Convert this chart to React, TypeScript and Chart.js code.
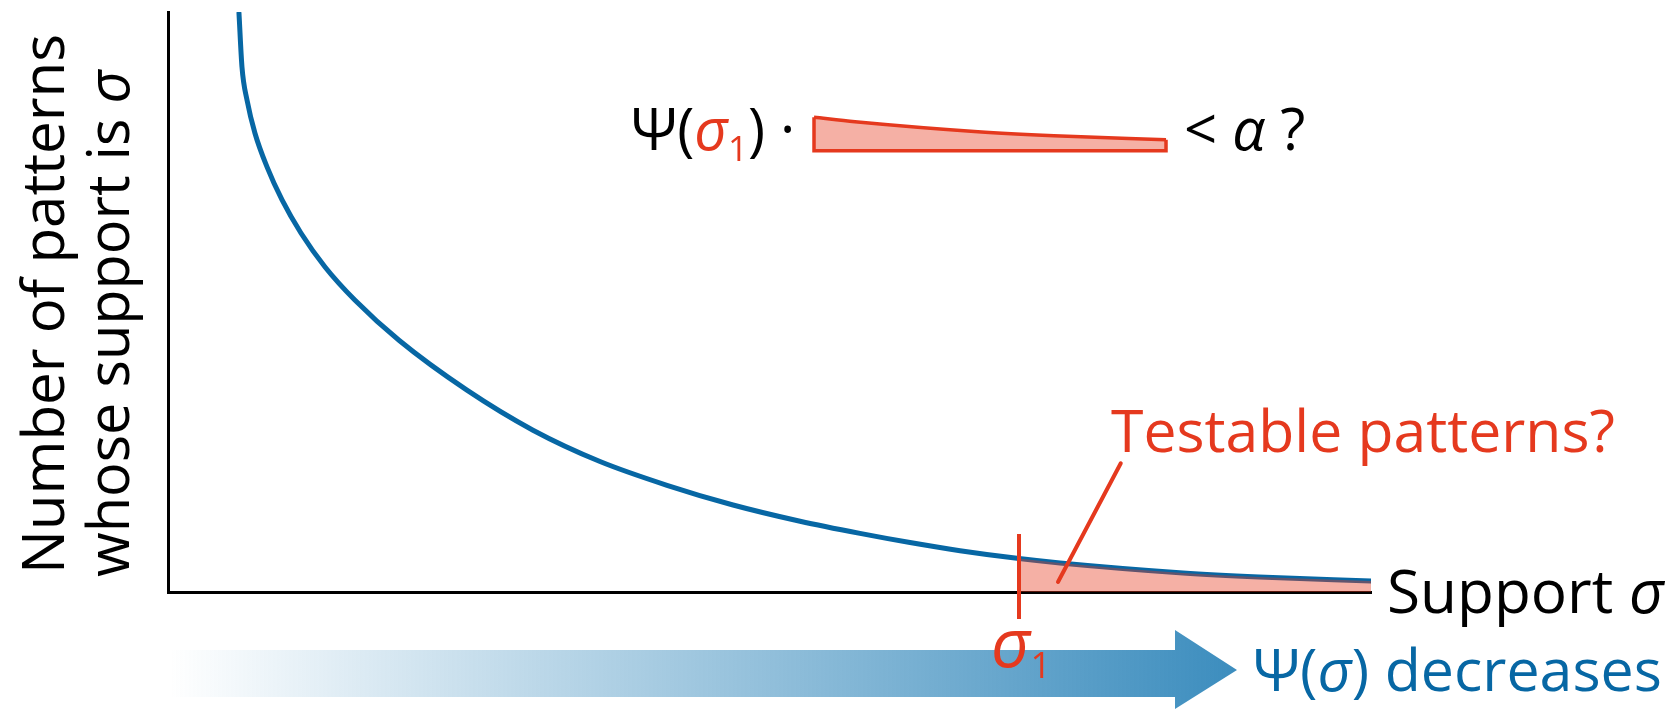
import { useEffect, useRef } from "react";
import { Chart, registerables } from "chart.js";

Chart.register(...registerables);

// ---- data ----
const supportValues = [5.9, 6.15, 6.57, 7.23, 8.23, 9.48, 11.05, 13.07, 15.55, 19.2, 24.85, 30.34, 35.91, 41.48, 46.97, 52.54, 57.52, 61.68, 65.84, 70.74, 74.15, 84.37, 90.69, 100];
const patternCounts = [99.8, 90.5, 84.8, 79.1, 73.3, 67.6, 61.9, 56.0, 50.3, 43.4, 34.8, 27.9, 22.5, 18.4, 15.0, 12.2, 10.1, 8.52, 7.12, 5.76, 5.0, 3.28, 2.59, 1.9];
const sigma1 = 70.74;
const sigma1TickY = [9.98, -4.65];
const leaderX = [79.2, 73.98];
const leaderY = [22.2, 1.72];
// the small copy of the tail area, shifted in data units
const insetShiftX = -17.04;
const insetShiftY = 76.08;

const RED = "#e5391e";
const FILL = "rgba(230,57,30,0.4)";
const BLUE = "#0767a4";
const FONT = '"Open Sans"';

type Run = { t: string; color?: string; italic?: boolean; sub?: boolean; size?: number; dy?: number };

function fontFor(r: Run, size: number) {
  const s = r.size ? r.size : r.sub ? size * 0.6 : size;
  return `${r.italic ? "italic " : ""}${s}px ${FONT}`;
}
function runsWidth(ctx: CanvasRenderingContext2D, runs: Run[], size: number) {
  let w = 0;
  for (const r of runs) {
    ctx.font = fontFor(r, size);
    w += ctx.measureText(r.t).width;
  }
  return w;
}
function fitSize(ctx: CanvasRenderingContext2D, runs: Run[], target: number) {
  return (100 * target) / runsWidth(ctx, runs, 100);
}
function drawRuns(ctx: CanvasRenderingContext2D, runs: Run[], x: number, y: number, size: number, color: string) {
  let cx = x;
  ctx.textAlign = "left";
  ctx.textBaseline = "alphabetic";
  for (const r of runs) {
    ctx.font = fontFor(r, size);
    ctx.fillStyle = r.color || color;
    const dy = r.dy !== undefined ? r.dy : r.sub ? size * 0.19 : 0;
    ctx.fillText(r.t, cx, y + dy);
    cx += ctx.measureText(r.t).width;
  }
}

const annotations = {
  id: "annotations",
  afterDraw(chart: any) {
    const ctx: CanvasRenderingContext2D = chart.ctx;
    ctx.save();
    // gradient arrow
    const g = ctx.createLinearGradient(170, 0, 1237, 0);
    g.addColorStop(0, "rgba(60,141,190,0)");
    g.addColorStop(1, "rgba(60,141,190,1)");
    ctx.fillStyle = g;
    ctx.beginPath();
    ctx.moveTo(170, 650);
    ctx.lineTo(1175, 650);
    ctx.lineTo(1175, 630);
    ctx.lineTo(1237, 670);
    ctx.lineTo(1175, 709);
    ctx.lineTo(1175, 697);
    ctx.lineTo(170, 697);
    ctx.closePath();
    ctx.fill();

    // y axis title (two lines, rotated)
    const y1: Run[] = [{ t: "Number of patterns" }];
    const y2: Run[] = [{ t: "whose support is " }, { t: "σ", italic: true }];
    ctx.save();
    ctx.translate(64, 574);
    ctx.rotate(-Math.PI / 2);
    drawRuns(ctx, y1, 0, 0, fitSize(ctx, y1, 540), "#000");
    ctx.restore();
    ctx.save();
    ctx.translate(129, 577);
    ctx.rotate(-Math.PI / 2);
    drawRuns(ctx, y2, 0, 0, fitSize(ctx, y2, 507), "#000");
    ctx.restore();

    // x axis title
    const sx: Run[] = [{ t: "Support " }, { t: "σ", italic: true }];
    drawRuns(ctx, sx, 1387, 613, fitSize(ctx, sx, 277), "#000");

    // testable patterns
    const tp: Run[] = [{ t: "Testable patterns?" }];
    drawRuns(ctx, tp, 1111, 452, fitSize(ctx, tp, 504), RED);

    // psi decreases
    const pd: Run[] = [{ t: "Ψ(" }, { t: "σ", italic: true }, { t: ") decreases" }];
    drawRuns(ctx, pd, 1253, 691, fitSize(ctx, pd, 409), BLUE);

    // sigma1 label
    drawRuns(ctx, [{ t: "σ", italic: true, size: 68 }, { t: "1", size: 36, dy: 11 }], 991, 667, 68, RED);

    // Psi(sigma1) · ... < alpha ?
    drawRuns(
      ctx,
      [{ t: "Ψ(" }, { t: "σ", italic: true, color: RED }, { t: "1", sub: true, color: RED }, { t: ") ·" }],
      631, 150, 58, "#000"
    );
    drawRuns(ctx, [{ t: "< " }, { t: "α", italic: true }, { t: " ?" }], 1184, 150, 58, "#000");
    ctx.restore();
  },
};

export default function App() {
  const ref = useRef<HTMLCanvasElement | null>(null);
  useEffect(() => {
    document.body.style.margin = "0";
    const canvas = ref.current!;
    const curve = supportValues.map((x, i) => ({ x, y: patternCounts[i] }));
    const tail = curve.filter((p) => p.x >= sigma1);
    const insetTop = tail.map((p) => ({ x: p.x + insetShiftX, y: p.y + insetShiftY }));
    const first = insetTop[0];
    const last = insetTop[insetTop.length - 1];
    const insetOutline = [first, { x: first.x, y: insetShiftY }, { x: last.x, y: insetShiftY }, last];
    const chart = new Chart(canvas, {
      type: "line",
      data: {
        datasets: [
          {
            data: leaderX.map((x, i) => ({ x, y: leaderY[i] })),
            borderColor: RED,
            borderWidth: 4,
            borderCapStyle: "round",
            pointRadius: 0,
            fill: false,
            clip: false,
          } as any,
          {
            data: sigma1TickY.map((y) => ({ x: sigma1, y })),
            borderColor: RED,
            borderWidth: 4,
            pointRadius: 0,
            fill: false,
            clip: false,
          } as any,
          {
            data: insetOutline,
            borderColor: RED,
            borderWidth: 3.5,
            borderJoinStyle: "miter",
            pointRadius: 0,
            tension: 0,
            fill: false,
            clip: false,
          } as any,
          {
            data: insetTop,
            borderColor: RED,
            borderWidth: 3.5,
            backgroundColor: FILL,
            pointRadius: 0,
            cubicInterpolationMode: "monotone",
            fill: { value: insetShiftY },
            clip: false,
          } as any,
          {
            data: tail,
            borderWidth: 0,
            borderColor: "rgba(0,0,0,0)",
            backgroundColor: FILL,
            pointRadius: 0,
            cubicInterpolationMode: "monotone",
            fill: "origin",
          } as any,
          {
            data: curve,
            borderColor: BLUE,
            borderWidth: 5,
            borderCapStyle: "round",
            pointRadius: 0,
            cubicInterpolationMode: "monotone",
            fill: false,
          } as any,
        ],
      },
      options: {
        animation: false,
        responsive: false,
        devicePixelRatio: 1,
        layout: { padding: { left: 168, right: 296, top: 12, bottom: 117 } },
        plugins: { legend: { display: false }, tooltip: { enabled: false } },
        scales: {
          x: {
            type: "linear",
            min: 0,
            max: 100,
            grid: { display: false, drawTicks: false },
            ticks: { display: false },
            border: { display: true, color: "#000", width: 3 },
          },
          y: {
            type: "linear",
            min: 0,
            max: 100,
            grid: { display: false, drawTicks: false },
            ticks: { display: false },
            border: { display: true, color: "#000", width: 3 },
          },
        },
      } as any,
      plugins: [annotations],
    });
    return () => chart.destroy();
  }, []);
  return <canvas ref={ref} width={1667} height={709} style={{ display: "block", width: 1667, height: 709 }} />;
}
